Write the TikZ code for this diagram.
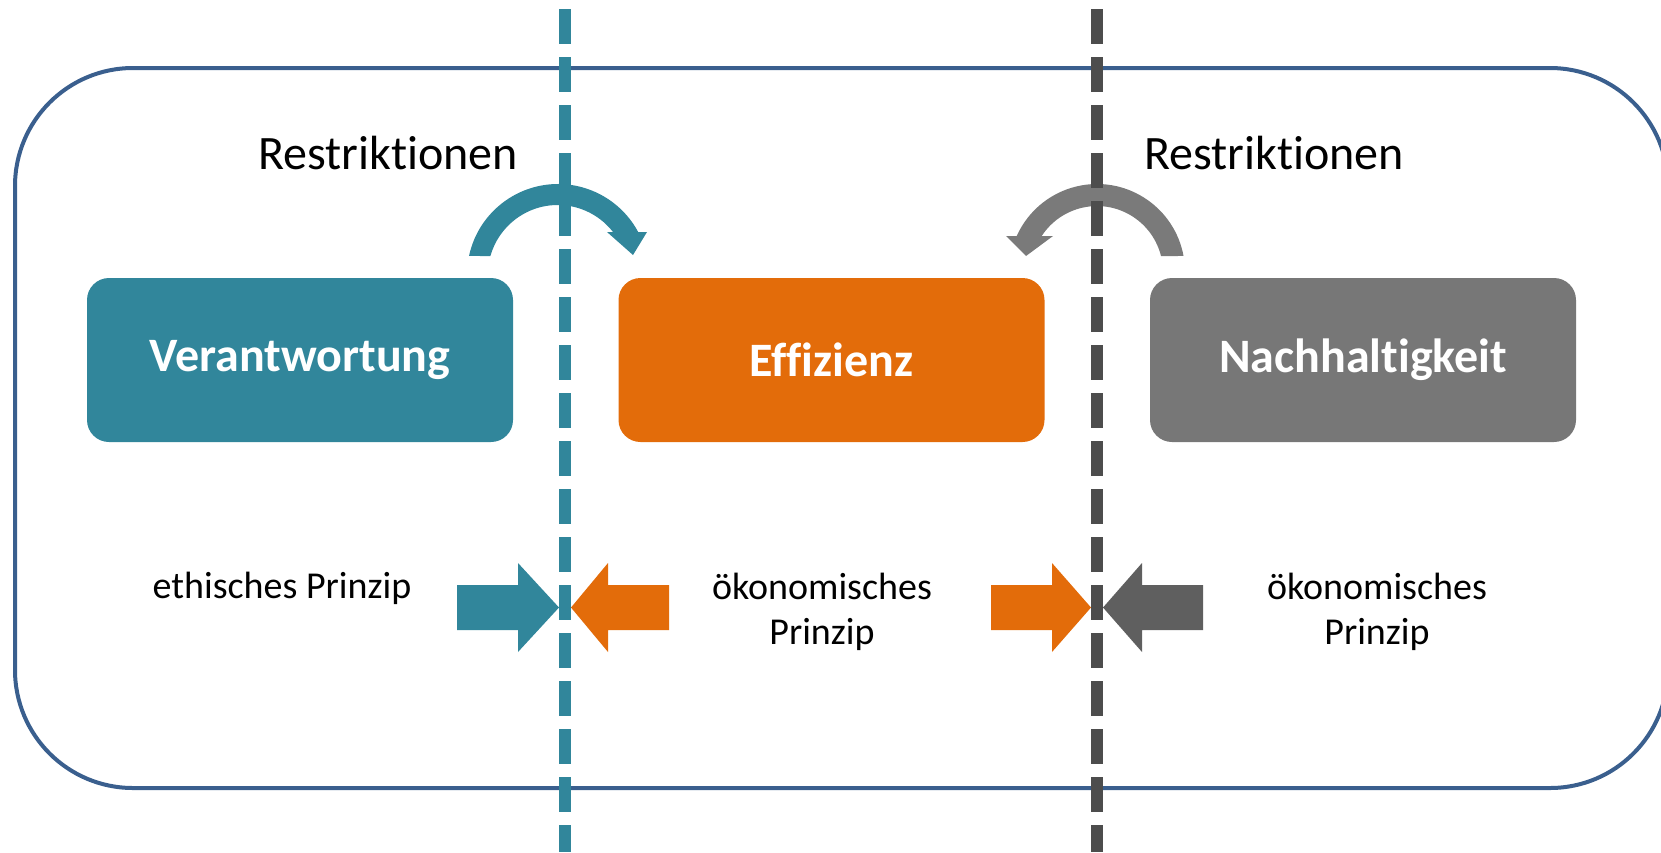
\documentclass[tikz,border=0pt]{standalone}
\usepackage{fontspec}
\setmainfont{Carlito}[Ligatures=CommonOff]
\definecolor{teal1}{HTML}{31869B}
\definecolor{orange1}{HTML}{E36C0A}
\definecolor{gray1}{HTML}{777777}
\definecolor{gray2}{HTML}{7A7A7A}
\definecolor{dark1}{HTML}{4D4D4D}
\definecolor{dark2}{HTML}{5F5F5F}
\definecolor{frame1}{HTML}{3A5F8E}
\tikzset{
  box/.style={rounded corners=22pt, minimum width=426pt, minimum height=164pt, inner sep=0pt,
     text=white, font=\fontsize{48}{57}\selectfont\bfseries},
  restr/.style={anchor=base, font=\fontsize{48}{58}\selectfont},
  lbl/.style={anchor=base, font=\fontsize{38}{45}\selectfont, align=center},
  divider/.style={line width=12pt, dash pattern=on 35pt off 13pt, dash phase=39pt},
}
\begin{document}
\begin{tikzpicture}[x=1pt,y=1pt]
\useasboundingbox (0,0) rectangle (1661,-852);
% outer frame
\draw[frame1, line width=4pt, rounded corners=118pt] (15,-68) rectangle (1668,-788);
% boxes
\node[box, fill=teal1] (ver) at (300,-360) {Verantwortung};
\node[box, fill=orange1] (eff) at (831.5,-360) {Effizienz};
\node[box, fill=gray1] (nach) at (1363,-360) {Nachhaltigkeit};
% labels
\node[restr] (r1) at (388,-169) {Restriktionen};
\node[restr] (r2) at (1274,-169) {Restriktionen};
\node[lbl] (l1) at (282,-598.5) {ethisches Prinzip};
\node[lbl] (l2) at (822,-644) {ökonomisches\\Prinzip};
\node[lbl] (l3) at (1377,-644) {ökonomisches\\Prinzip};
% curved arrows
\fill[teal1] (558,-275) ++(167.9:91) arc[start angle=167.9, end angle=28.2, radius=91]
   -- (647,-232) -- (633,-255) -- (607,-232) -- (613,-232)
   arc[start angle=37.9, end angle=164.3, radius=70] -- cycle;
\fill[gray2] (1097,-272) ++(10.5:88) arc[start angle=10.5, end angle=155.9, radius=88]
   -- (1006,-236) -- (1026,-256) -- (1053,-236) -- (1041.7,-236)
   arc[start angle=146.9, end angle=14, radius=66] -- cycle;
% block arrows
\fill[teal1] (457,-585) -- (518,-585) -- (518,-563) -- (559,-607.5) -- (518,-652) -- (518,-630) -- (457,-630) -- cycle;
\fill[orange1] (669,-585) -- (608,-585) -- (608,-563) -- (571,-607.5) -- (608,-652) -- (608,-630) -- (669,-630) -- cycle;
\fill[orange1] (991,-585) -- (1052,-585) -- (1052,-563) -- (1091,-607.5) -- (1052,-652) -- (1052,-630) -- (991,-630) -- cycle;
\fill[dark2] (1203,-585) -- (1142,-585) -- (1142,-563) -- (1103,-607.5) -- (1142,-652) -- (1142,-630) -- (1203,-630) -- cycle;
% dividers
\coordinate (d1t) at (565,0); \coordinate (d1b) at (565,-852);
\coordinate (d2t) at (1097,0); \coordinate (d2b) at (1097,-852);
\draw[divider, teal1] (d1t) -- (d1b);
\draw[divider, dark1] (d2t) -- (d2b);
\end{tikzpicture}
\end{document}
